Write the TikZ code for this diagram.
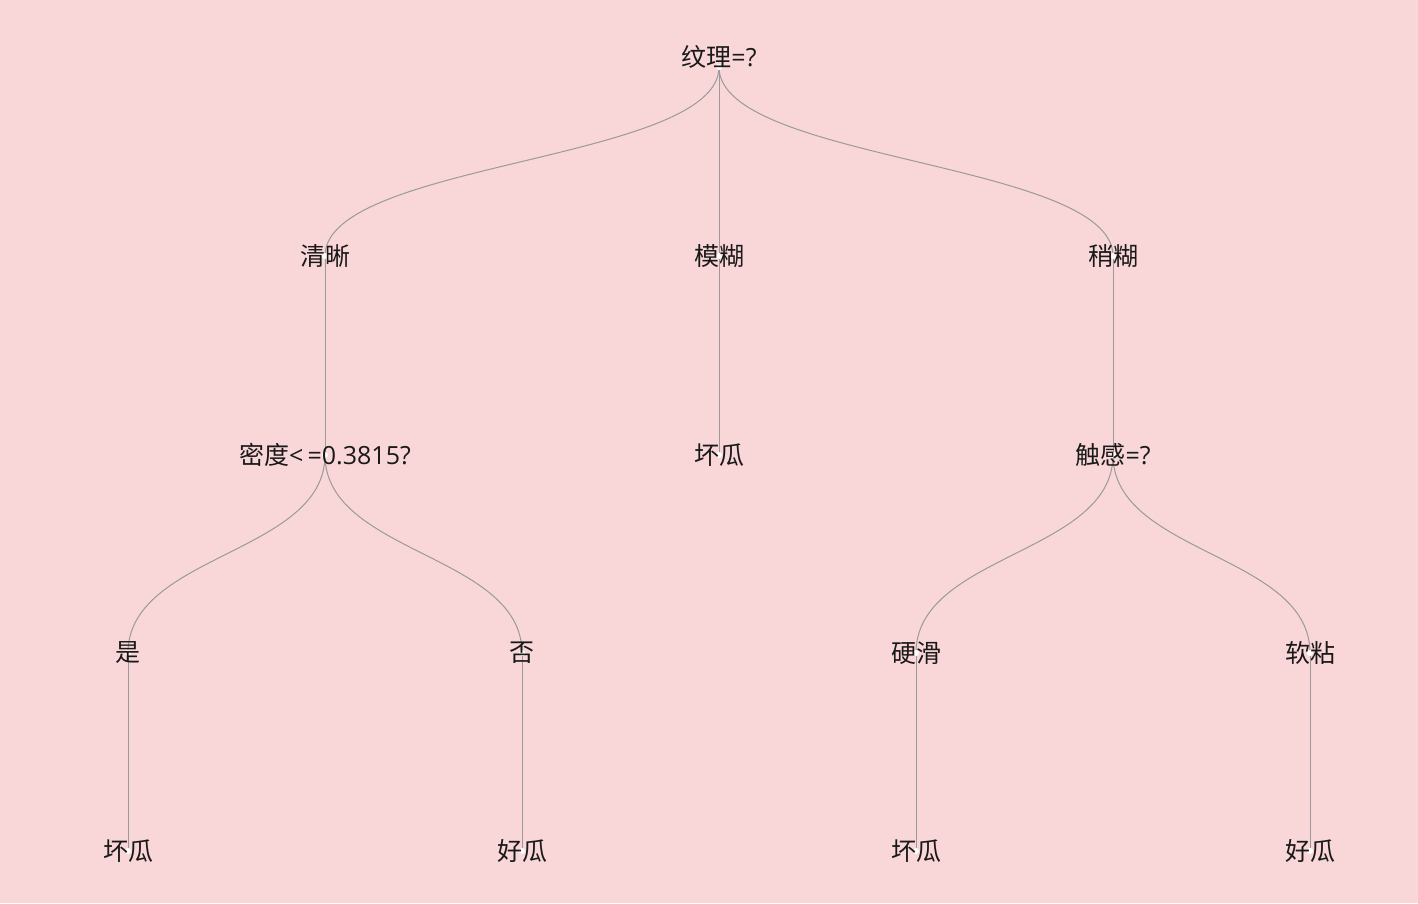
\documentclass[tikz,border=0pt]{standalone}
\usepackage{fontspec}
\setmainfont{Noto Sans CJK SC}
\newfontfamily\latinfont{Open Sans}
\usetikzlibrary{calc,backgrounds}
\definecolor{bgpink}{HTML}{F9D6D7}
\definecolor{edgegray}{HTML}{9A9A9A}
\tikzset{
  nodetext/.style={font=\fontsize{25}{29}\selectfont, text=black!90, inner sep=0pt},
  branch/.style={draw=edgegray, line width=1pt},
  treecurve/.style={to path={.. controls ($(\tikztostart)!.5!(\tikztostart |- \tikztotarget)$) and ($(\tikztotarget)!.5!(\tikztotarget |- \tikztostart)$) .. (\tikztotarget)}},
  dot/.style={fill=white},
}

\begin{document}
\begin{tikzpicture}[x=1pt, y=-1pt]
      \useasboundingbox (0,0) rectangle (1418,903);
      % root
      \node[nodetext] (n0) at (719,57) {纹理{\latinfont=?}};
      \coordinate (r0) at (719,67);
      % texture values
      \node[nodetext] (n1) at (325,256) {清晰};
      \node[nodetext] (n2) at (719,256) {模糊};
      \node[nodetext] (n3) at (1113,256) {稍糊};
      % tests and leaves
      \node[nodetext] (n4) at (325,455) {密度{\latinfont<\,=0.3815?}};
      \node[nodetext] (n5) at (719,455) {坏瓜};
      \node[nodetext] (n6) at (1113,455) {触感{\latinfont=?}};
      \node[nodetext] (n7) at (128,653) {是};
      \node[nodetext] (n8) at (522,653) {否};
      \node[nodetext] (n9) at (916,653) {硬滑};
      \node[nodetext] (n10) at (1310,653) {软粘};
      \node[nodetext] (n11) at (128,851) {坏瓜};
      \node[nodetext] (n12) at (522,851) {好瓜};
      \node[nodetext] (n13) at (916,851) {坏瓜};
      \node[nodetext] (n14) at (1310,851) {好瓜};
      \begin{scope}[on background layer]
        \fill[bgpink] (0,0) rectangle (1418,903);
        \draw[branch] (r0) to[treecurve] (n1.center);
        \draw[branch] (r0) -- (n2.center);
        \draw[branch] (r0) to[treecurve] (n3.center);
        \draw[branch] (n1.center) -- (n4.center);
        \draw[branch] (n2.center) -- (n5.center);
        \draw[branch] (n3.center) -- (n6.center);
        \draw[branch] (n4.center) to[treecurve] (n7.center);
        \draw[branch] (n4.center) to[treecurve] (n8.center);
        \draw[branch] (n6.center) to[treecurve] (n9.center);
        \draw[branch] (n6.center) to[treecurve] (n10.center);
        \draw[branch] (n7.center) -- (n11.center);
        \draw[branch] (n8.center) -- (n12.center);
        \draw[branch] (n9.center) -- (n13.center);
        \draw[branch] (n10.center) -- (n14.center);
        \foreach \n in {r0,n1,n2,n3,n4,n5,n6,n7,n8,n9,n10,n11,n12,n13,n14}
          \fill[dot] (\n.center) circle (3);
      \end{scope}
    \end{tikzpicture}
\end{document}
